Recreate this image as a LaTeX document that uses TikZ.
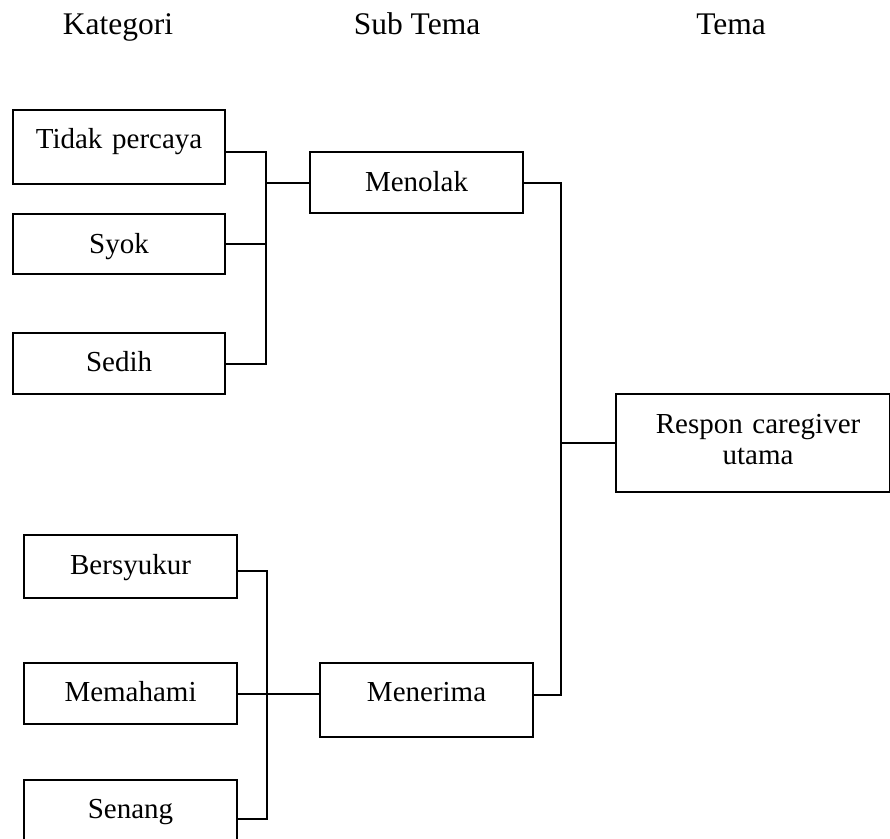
\documentclass[tikz,border=0pt]{standalone}
\usepackage{fontspec}
\setmainfont{Liberation Serif}
\begin{document}
\begin{tikzpicture}[x=1pt, y=-1pt, line width=1.9pt,
	kotak/.style={draw, line width=2.1pt, anchor=north west, inner sep=0pt, align=center, font=\fontsize{29}{31}\selectfont},
	judul/.style={anchor=base, font=\fontsize{31.5}{34}\selectfont}]
	\path[use as bounding box, clip] (0,0) rectangle (890,838);
	
	% judul kolom
	\node[judul] (kategori) at (118,34) {Kategori};
	\node[judul] (subtema) at (417,34) {Sub Tema};
	\node[judul] (tema) at (731,34) {Tema};
	
	% kategori
	\node[kotak, text width=212pt, text height=38pt, text depth=36pt] (tidak) at (12,109) {Tidak percaya};
	\node[kotak, text width=212pt, text height=39pt, text depth=21pt] (syok) at (12,213) {Syok};
	\node[kotak, text width=212pt, text height=38pt, text depth=23pt] (sedih) at (12,332) {Sedih};
	\node[kotak, text width=213pt, text height=39pt, text depth=24pt] (bersyukur) at (23,534) {Bersyukur};
	\node[kotak, text width=213pt, text height=38pt, text depth=23pt] (memahami) at (23,662) {Memahami};
	\node[kotak, text width=213pt, text height=38pt, text depth=40pt] (senang) at (23,779) {Senang};
	
	% sub tema
	\node[kotak, text width=213pt, text height=39pt, text depth=22pt] (menolak) at (309,151) {Menolak};
	\node[kotak, text width=213pt, text height=38pt, text depth=36pt] (menerima) at (319,662) {Menerima};
	
	% tema
	\node[kotak, text width=274pt, text height=39pt, text depth=59pt] (respon) at (615,393) {\hspace*{10pt}Respon caregiver\\\hspace*{10pt}utama};
	
	% garis penghubung
	\coordinate (ka) at (266,0);
	\coordinate (kb) at (561,0);
	\coordinate (kc) at (267,0);
	
	\draw ([yshift=-5pt]tidak.east) -| (ka |- sedih.east) -- (sedih.east);
	\draw (syok.east) -- (syok.east -| ka);
	\draw (menolak.west) -- (menolak.west -| ka);
	
	\draw ([yshift=-4.5pt]bersyukur.east) -| (kc |- senang.east) -- (senang.east);
	\draw (memahami.east) -- (memahami.east -| menerima.west);
	
	\draw (menolak.east) -| ([yshift=5pt]kb |- menerima.east) -- ([yshift=5pt]menerima.east);
	\draw (respon.west) -- (respon.west -| kb);
\end{tikzpicture}
\end{document}
